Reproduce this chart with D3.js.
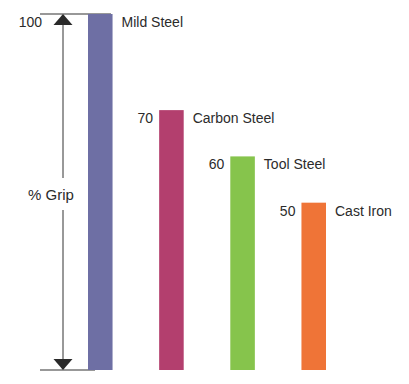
<!DOCTYPE html>
<html>
<head>
<meta charset="utf-8">
<script src="https://cdn.jsdelivr.net/npm/d3@7"></script>
<style>
  body { margin: 0; background: #fff; }
  text { font-family: "Liberation Sans", Arial, sans-serif; fill: #2b2b2b; }
</style>
</head>
<body>
<div class="chart"></div>
<script>
var metals = ["Mild Steel", "Carbon Steel", "Tool Steel", "Cast Iron"];
var grip = [100, 73, 60, 47];          // bar heights as drawn
var gripLabels = ["100", "70", "60", "50"];
var colors = ["#6e6fa4", "#b33f6e", "#86c44c", "#ef7437"];

var svg = d3.select(".chart").append("svg")
    .attr("width", 409)
    .attr("height", 384);

var y = d3.scaleLinear()
    .domain([0, 100])
    .range([370, 14]);

var x = d3.scaleBand()
    .domain(metals)
    .range([88, 326])
    .paddingInner(0.655)
    .paddingOuter(0);

var axisX = 63;

// guide lines top & bottom
svg.append("line")
    .attr("x1", 40).attr("x2", 111)
    .attr("y1", y(100)).attr("y2", y(100));

svg.append("line")
    .attr("x1", 40).attr("x2", 95)
    .attr("y1", y(0)).attr("y2", y(0));

svg.selectAll("line")
    .style("stroke", "#333")
    .style("stroke-width", "1.2px");

// the double arrow
svg.append("line")
    .attr("x1", axisX).attr("x2", axisX)
    .attr("y1", y(100) + 8).attr("y2", y(0) - 8)
    .style("stroke", "#333")
    .style("stroke-width", "1px");

svg.append("path")
    .attr("d", "M" + axisX + "," + y(100) + " l9.5,11 l-19,0 z")
    .style("fill", "#2a2a2a");

svg.append("path")
    .attr("d", "M" + axisX + "," + y(0) + " l9.5,-11 l-19,0 z")
    .style("fill", "#2a2a2a");

svg.append("rect")
    .attr("x", 24).attr("y", 178)
    .attr("width", 56).attr("height", 32)
    .style("fill", "#fff");

svg.append("text")
    .attr("x", 51)
    .attr("y", 200)
    .attr("text-anchor", "middle")
    .style("font-size", "15px")
    .text("% Grip");

// bars
svg.selectAll(".bar")
    .data(metals)
  .enter().append("rect")
    .attr("class", "bar")
    .attr("x", function(d) { return x(d); })
    .attr("y", function(d, i) { return y(grip[i]); })
    .attr("width", x.bandwidth())
    .attr("height", function(d, i) { return y(0) - y(grip[i]); })
    .style("fill", function(d, i) { return colors[i]; });

// category labels
svg.selectAll(".name")
    .data(metals)
  .enter().append("text")
    .attr("class", "name")
    .attr("x", function(d) { return x(d) + x.bandwidth() + 9; })
    .attr("y", function(d, i) { return y(grip[i]) + 13; })
    .style("font-size", "14px")
    .text(function(d) { return d; });

// value labels
svg.selectAll(".value")
    .data(metals)
  .enter().append("text")
    .attr("class", "value")
    .attr("x", function(d, i) { return i === 0 ? 42 : x(d) - 6; })
    .attr("y", function(d, i) { return y(grip[i]) + 13; })
    .attr("text-anchor", "end")
    .style("font-size", "14px")
    .text(function(d, i) { return gripLabels[i]; });
</script>
</body>
</html>
